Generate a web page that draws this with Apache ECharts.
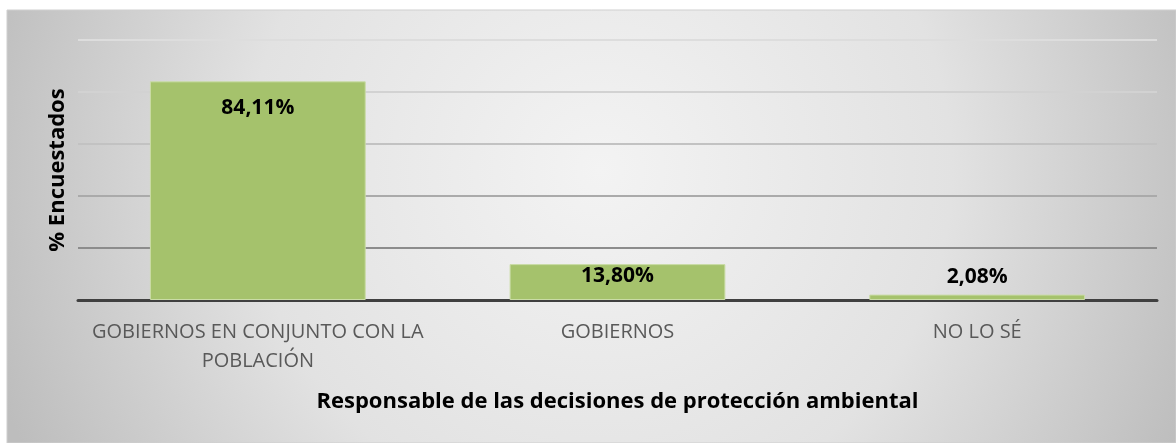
<!DOCTYPE html>
<html>
<head>
<meta charset="utf-8">
<script src="https://cdn.jsdelivr.net/npm/echarts@6/dist/echarts.min.js"></script>
<style>
  html, body { margin: 0; padding: 0; background: #fff; }
  #chart { width: 1176px; height: 443px; }
</style>
</head>
<body>
<div id="chart"></div>
<script>
// datos
const categorias = ['GOBIERNOS EN CONJUNTO CON LA\nPOBLACIÓN', 'GOBIERNOS', 'NO LO SÉ']
const porcentajes = [84.11, 13.80, 2.08]
const ejeYMax = 100
const ejeYPaso = 20

const fuente = "'Open Sans', 'Noto Sans', sans-serif"

// etiqueta dentro de la barra si cabe, si no encima
const etiquetas = [
    { position: 'insideTop', distance: 16 },
    { position: 'insideTop', distance: 1 },
    { position: 'top', distance: 7 }
]

const chart = echarts.init(document.getElementById('chart'))

const option = {
    animation: false,
    graphic: [
        {
            type: 'rect',
            z: -10,
            silent: true,
            shape: { x: 7, y: 10, width: 1169, height: 433 },
            style: {
                fill: {
                    type: 'radial',
                    x: 600, y: 170, r: 640,
                    global: true,
                    colorStops: [
                        { offset: 0, color: '#f3f3f3' },
                        { offset: 0.55, color: '#e2e2e2' },
                        { offset: 1, color: '#bdbdbd' }
                    ]
                },
                stroke: '#cfcfcf',
                lineWidth: 1
            }
        }
    ],
    grid: {
        left: 78,
        right: 19,
        top: 40,
        bottom: 143
    },
    xAxis: {
        type: 'category',
        data: categorias,
        name: 'Responsable de las decisiones de protección ambiental',
        nameLocation: 'middle',
        nameGap: 91,
        nameTextStyle: {
            fontFamily: fuente,
            fontWeight: 'bold',
            fontSize: 22,
            color: '#000'
        },
        axisLine: { lineStyle: { color: '#404040', width: 3 } },
        axisTick: { show: false },
        axisLabel: {
            interval: 0,
            margin: 18,
            fontFamily: fuente,
            fontSize: 20,
            lineHeight: 29,
            color: '#595959'
        }
    },
    yAxis: {
        type: 'value',
        min: 0,
        max: ejeYMax,
        interval: ejeYPaso,
        name: '% Encuestados',
        nameLocation: 'middle',
        nameGap: 9,
        nameTextStyle: {
            fontFamily: fuente,
            fontWeight: 'bold',
            fontSize: 22,
            color: '#000'
        },
        axisLine: { show: false },
        axisTick: { show: false },
        axisLabel: { show: false },
        splitLine: {
            lineStyle: {
                color: ['#404040', '#8c8c8c', '#aaaaaa', '#c2c2c2', '#d2d2d2', '#dddddd'],
                width: 2
            }
        }
    },
    series: [
        {
            type: 'bar',
            barWidth: '60%',
            data: porcentajes.map((v, i) => ({
                value: v,
                label: etiquetas[i]
            })),
            itemStyle: {
                color: '#a5c26c',
                borderColor: '#cadca6',
                borderWidth: 1
            },
            label: {
                show: true,
                fontFamily: fuente,
                fontWeight: 'bold',
                fontSize: 21,
                color: '#000',
                formatter: p => p.value.toFixed(2).replace('.', ',') + '%'
            }
        }
    ]
}

chart.setOption(option)
</script>
</body>
</html>
